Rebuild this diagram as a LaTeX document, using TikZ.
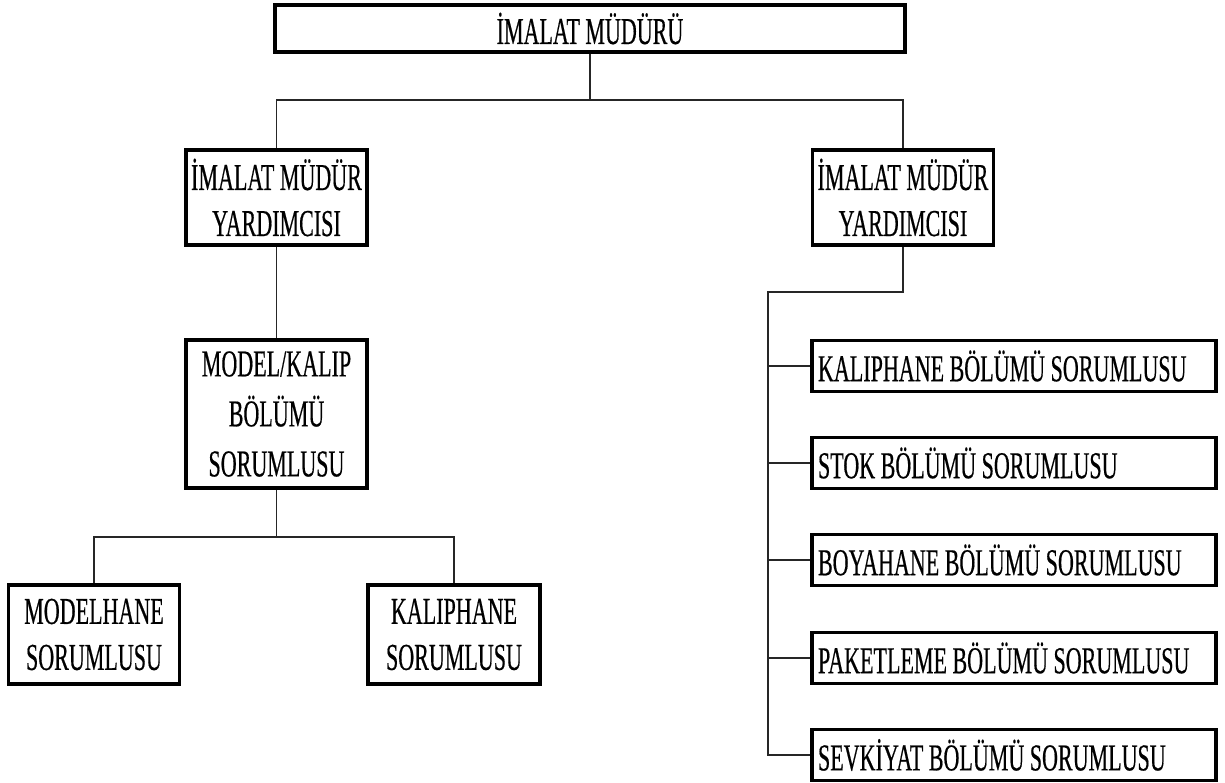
\documentclass[tikz,border=0pt]{standalone}
\usepackage{fontspec}
\setmainfont{Liberation Serif}[FakeStretch=0.58, FakeBold=0.4]
% one line of text flush left in a fixed-width slot
\newcommand{\flushrow}[1]{\makebox[392pt][l]{#1}}
\begin{document}
\begin{tikzpicture}[x=1pt,y=-1pt,
  box/.style={draw=black, line width=3.5pt, fill=white, inner sep=0pt,
    font=\fontsize{38}{46}\selectfont, align=center},
  widebox/.style={draw=black, line width=3.5pt, fill=white, inner sep=0pt,
    font=\fontsize{38}{46}\selectfont, minimum width=404pt, minimum height=51pt},
  link/.style={draw=black!85, line width=1.4pt}]
\useasboundingbox (0,0) rectangle (1225,783);

% management levels
\node[box, minimum width=630pt, minimum height=47pt] (top) at (590,28.5) {İMALAT MÜDÜRÜ};
\node[box, minimum width=181pt, minimum height=95pt] (lvp) at (276.5,197.5) {İMALAT MÜDÜR\\YARDIMCISI};
\node[box, minimum width=181pt, minimum height=95pt] (rvp) at (903,197.5) {İMALAT MÜDÜR\\YARDIMCISI};

% left branch
\node[box, minimum width=181pt, minimum height=148pt] (model) at (276.5,414) {MODEL/KALIP\\[4pt]BÖLÜMÜ\\[4pt]SORUMLUSU};
\node[box, minimum width=171pt, minimum height=99pt] (mhane) at (94,634.5) {MODELHANE\\SORUMLUSU};
\node[box, minimum width=172pt, minimum height=99pt] (khane) at (454,634.5) {KALIPHANE\\SORUMLUSU};

% right branch
\node[widebox] (kal) at (1014,366) {\flushrow{KALIPHANE BÖLÜMÜ SORUMLUSU}};
\node[widebox] (stok) at (1014,463) {\flushrow{STOK BÖLÜMÜ SORUMLUSU}};
\node[widebox] (boya) at (1014,560) {\flushrow{BOYAHANE BÖLÜMÜ SORUMLUSU}};
\node[widebox] (paket) at (1014,658) {\flushrow{PAKETLEME BÖLÜMÜ SORUMLUSU}};
\node[widebox] (sevk) at (1014,755) {\flushrow{SEVKİYAT BÖLÜMÜ SORUMLUSU}};

% junction points
\coordinate (j1) at (590,100);
\coordinate (j2) at (276.5,537);
\coordinate (j3) at (768,292);

% connectors
\draw[link] (top.south) -- (j1);
\draw[link] (lvp.north) |- (j1) -| (rvp.north);
\draw[link] (lvp.south) -- (model.north);
\draw[link] (model.south) -- (j2);
\draw[link] (mhane.north) |- (j2) -| (khane.north);
\draw[link] (rvp.south) |- (j3) -- (j3 |- sevk.west) -- (sevk.west);
\draw[link] (j3 |- kal.west) -- (kal.west);
\draw[link] (j3 |- stok.west) -- (stok.west);
\draw[link] (j3 |- boya.west) -- (boya.west);
\draw[link] (j3 |- paket.west) -- (paket.west);
\end{tikzpicture}
\end{document}
